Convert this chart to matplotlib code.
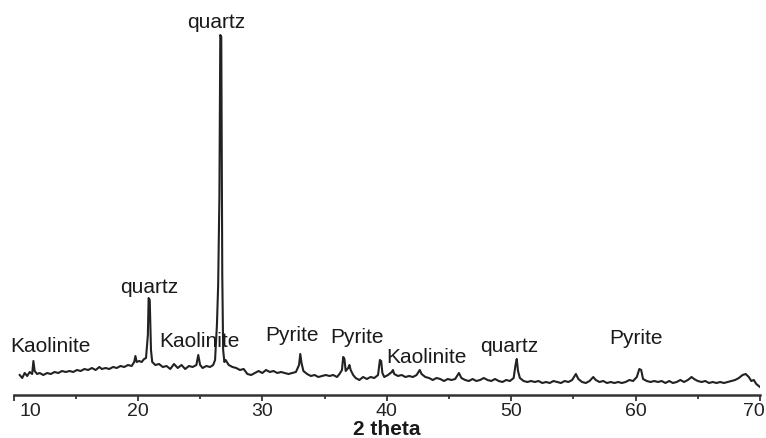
import numpy as np
import matplotlib.pyplot as plt
from matplotlib.transforms import ScaledTranslation

plt.rcParams['font.family'] = ['Liberation Sans', 'DejaVu Sans']

# XRD pattern, 2 theta (deg) vs intensity (a.u.)
two_theta = [
    10.5, 10.7, 10.9, 11.1, 11.3, 11.5, 11.6, 11.7, 11.9, 12.1, 12.4, 12.7,
    13.0, 13.3, 13.6, 13.9, 14.2, 14.5, 14.8, 15.1, 15.4, 15.7, 16.0, 16.3,
    16.6, 16.9, 17.1, 17.4, 17.7, 18.0, 18.3, 18.6, 18.9, 19.2, 19.5, 19.7,
    19.8, 19.9, 20.1, 20.3, 20.5, 20.65, 20.8, 20.86, 20.95, 21.05, 21.15, 21.4,
    21.7, 22.0, 22.3, 22.6, 22.9, 23.2, 23.5, 23.8, 24.1, 24.4, 24.7, 24.85,
    25.0, 25.2, 25.5, 25.8, 26.05, 26.2, 26.35, 26.45, 26.55, 26.62, 26.7, 26.78,
    26.85, 26.95, 27.05, 27.3, 27.6, 27.9, 28.2, 28.5, 28.8, 29.1, 29.4, 29.7,
    30.0, 30.3, 30.6, 30.9, 31.2, 31.5, 31.8, 32.1, 32.4, 32.7, 32.95, 33.05,
    33.15, 33.3, 33.6, 33.9, 34.2, 34.5, 34.8, 35.1, 35.4, 35.7, 36.0, 36.2,
    36.4, 36.5, 36.6, 36.7, 36.9, 37.0, 37.1, 37.3, 37.5, 37.8, 38.1, 38.4,
    38.7, 39.0, 39.3, 39.45, 39.55, 39.65, 39.8, 40.1, 40.4, 40.5, 40.6, 40.9,
    41.2, 41.5, 41.8, 42.1, 42.4, 42.65, 42.8, 43.1, 43.4, 43.7, 44.0, 44.3,
    44.6, 44.9, 45.2, 45.5, 45.8, 46.0, 46.3, 46.6, 46.9, 47.2, 47.5, 47.8,
    48.1, 48.4, 48.7, 49.0, 49.3, 49.6, 49.9, 50.2, 50.35, 50.45, 50.55, 50.7,
    51.0, 51.3, 51.6, 51.9, 52.2, 52.5, 52.8, 53.1, 53.4, 53.7, 54.0, 54.3,
    54.6, 54.9, 55.2, 55.4, 55.7, 56.0, 56.3, 56.6, 56.8, 57.1, 57.4, 57.7,
    58.0, 58.3, 58.6, 58.9, 59.2, 59.5, 59.8, 60.1, 60.3, 60.45, 60.6, 60.9,
    61.2, 61.5, 61.8, 62.1, 62.4, 62.7, 63.0, 63.3, 63.6, 63.9, 64.2, 64.5,
    64.7, 65.0, 65.3, 65.6, 65.9, 66.2, 66.5, 66.8, 67.1, 67.4, 67.7, 68.0,
    68.3, 68.6, 68.85, 69.1, 69.3, 69.5, 69.7, 70.0,
]
intensity = [
    20, 17, 22, 19, 23, 21, 34, 24, 21, 22, 20, 22,
    21, 23, 22, 24, 23, 24, 23, 25, 24, 26, 25, 27,
    25, 28, 26, 27, 26, 28, 27, 29, 28, 30, 29, 33,
    39, 33, 34, 33, 36, 37, 60, 97, 95, 45, 33, 30,
    31, 28, 29, 26, 31, 27, 30, 26, 29, 28, 30, 40,
    30, 27, 29, 28, 30, 35, 70, 110, 200, 360, 358, 120,
    45, 33, 35, 30, 28, 27, 25, 26, 21, 20, 22, 24,
    22, 25, 23, 24, 22, 23, 22, 21, 22, 23, 30, 41,
    32, 24, 21, 19, 20, 18, 19, 20, 19, 20, 18, 21,
    25, 38, 36, 24, 27, 30, 25, 20, 17, 15, 18, 16,
    18, 17, 20, 35, 34, 22, 18, 20, 23, 25, 21, 19,
    20, 18, 19, 18, 20, 25, 21, 18, 17, 15, 17, 16,
    14, 16, 15, 16, 22, 17, 15, 14, 16, 14, 15, 17,
    15, 14, 16, 14, 13, 15, 14, 17, 30, 36, 24, 17,
    14, 13, 14, 13, 14, 12, 13, 12, 14, 13, 12, 14,
    13, 15, 21, 16, 13, 12, 14, 18, 15, 13, 14, 12,
    13, 12, 13, 12, 13, 15, 14, 18, 26, 25, 16, 14,
    13, 14, 13, 14, 12, 14, 12, 13, 15, 13, 15, 18,
    16, 14, 13, 14, 12, 13, 12, 13, 12, 13, 14, 15,
    17, 20, 21, 18, 14, 15, 11, 8,
]

# phase labels: text, 2 theta position, baseline height
phase_names = ['Kaolinite', 'quartz', 'Kaolinite', 'quartz', 'Pyrite',
               'Pyrite', 'Kaolinite', 'quartz', 'Pyrite']
phase_x = [12.93, 20.89, 24.95, 26.32, 32.39, 37.57, 43.2, 49.87, 60.0]
phase_y = [43, 102, 48, 367, 54, 52, 32, 43, 51]

fig = plt.figure(figsize=(7.66, 4.38), dpi=100)
ax = fig.add_axes([13.5 / 766, 43 / 438, 746.5 / 766, 395 / 438])

ax.plot(two_theta, intensity, color='#222222', lw=1.5)

for name, x, y in zip(phase_names, phase_x, phase_y):
    ax.text(x, y, name, ha='center', va='baseline', fontsize=15, color='#1a1a1a')

ax.set_xlim(10, 70)
ax.set_ylim(0, 395)
ax.set_xticks(np.arange(10, 71, 10))
ax.set_xticks(np.arange(15, 70, 10), minor=True)
ax.tick_params(axis='x', which='major', direction='out', length=4, width=1.2,
               labelsize=14, pad=2, colors='#222222')
ax.tick_params(axis='x', which='minor', direction='out', length=3, width=1.2,
               colors='#222222')
ax.set_yticks([])
for side in ['top', 'left', 'right']:
    ax.spines[side].set_visible(False)
ax.spines['bottom'].set_linewidth(1.8)
ax.spines['bottom'].set_color('#333333')

# keep the end tick labels inside the frame
labels = ax.get_xticklabels()
labels[0].set_transform(labels[0].get_transform()
                        + ScaledTranslation(0.17, 0, fig.dpi_scale_trans))
labels[-1].set_transform(labels[-1].get_transform()
                         + ScaledTranslation(-0.06, 0, fig.dpi_scale_trans))

ax.set_xlabel('2 theta', fontsize=15, fontweight='bold', labelpad=0, color='#1a1a1a')

fig.savefig('out.png', dpi=100)
